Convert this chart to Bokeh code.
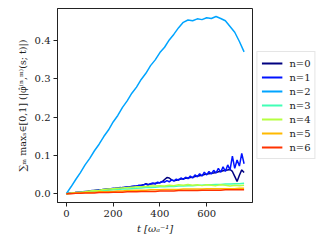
from bokeh.plotting import figure
from bokeh.layouts import row
from bokeh.models import Legend, LegendItem, FixedTicker, NumeralTickFormatter, Range1d
from bokeh.embed import file_html
from bokeh.resources import INLINE

t_noisy = [0, 10, 20, 30, 40, 50, 60, 70, 80, 90, 100, 110, 120, 130, 140, 150, 160, 170, 180, 190,
           200, 210, 220, 230, 240, 250, 260, 270, 280, 290, 300, 310, 320, 330, 340, 350, 360, 370, 380, 390,
           400, 410, 420, 430, 440, 450, 460, 470, 480, 490, 500, 510, 520, 530, 540, 550, 560, 570, 580, 590,
           600, 610, 620, 630, 640, 650, 660, 670, 680, 690, 700, 710, 720, 730, 740, 750, 760]

t_smooth = [0, 20, 40, 60, 80, 100, 120, 140, 160, 180, 200, 220, 240, 260, 280, 300, 320, 340, 360, 380,
            400, 420, 440, 460, 480, 500, 520, 540, 560, 580, 600, 620, 640, 660, 680, 700, 720, 740, 760]

n0 = [0.000, 0.001, 0.001, 0.002, 0.003, 0.003, 0.004, 0.005, 0.005, 0.006, 0.007, 0.007, 0.008, 0.009, 0.009,
      0.010, 0.011, 0.011, 0.012, 0.012, 0.013, 0.014, 0.014, 0.015, 0.016, 0.016, 0.017, 0.018, 0.019, 0.019,
      0.020, 0.021, 0.022, 0.023, 0.026, 0.024, 0.025, 0.026, 0.027, 0.028, 0.029, 0.031, 0.037, 0.042, 0.041,
      0.036, 0.034, 0.035, 0.037, 0.038, 0.039, 0.040, 0.041, 0.042, 0.043, 0.045, 0.046, 0.047, 0.048, 0.050,
      0.051, 0.052, 0.053, 0.054, 0.055, 0.057, 0.058, 0.060, 0.061, 0.062, 0.063, 0.058, 0.045, 0.032, 0.048,
      0.062, 0.055]

n1 = [0.000, 0.001, 0.002, 0.002, 0.003, 0.004, 0.004, 0.005, 0.006, 0.006, 0.007, 0.008, 0.008, 0.009, 0.010,
      0.010, 0.011, 0.012, 0.012, 0.013, 0.014, 0.013, 0.015, 0.016, 0.015, 0.017, 0.018, 0.017, 0.019, 0.020,
      0.019, 0.022, 0.021, 0.023, 0.025, 0.022, 0.026, 0.028, 0.025, 0.030, 0.028, 0.032, 0.030, 0.034, 0.031,
      0.036, 0.033, 0.038, 0.035, 0.041, 0.037, 0.043, 0.039, 0.046, 0.041, 0.049, 0.044, 0.052, 0.046, 0.056,
      0.049, 0.058, 0.051, 0.061, 0.054, 0.066, 0.056, 0.070, 0.058, 0.075, 0.062, 0.098, 0.066, 0.088, 0.072,
      0.105, 0.078]

n2 = [0.000, 0.018, 0.037, 0.055, 0.075, 0.092, 0.112, 0.129, 0.149, 0.166, 0.187, 0.204, 0.225, 0.242, 0.262,
      0.278, 0.298, 0.314, 0.334, 0.349, 0.368, 0.382, 0.401, 0.416, 0.433, 0.447, 0.453, 0.451, 0.456, 0.454,
      0.459, 0.457, 0.462, 0.457, 0.451, 0.436, 0.421, 0.397, 0.370]

n3 = [0.000, 0.001, 0.002, 0.003, 0.004, 0.005, 0.006, 0.007, 0.008, 0.009, 0.010, 0.011, 0.012, 0.012, 0.013,
      0.014, 0.015, 0.016, 0.016, 0.017, 0.018, 0.018, 0.019, 0.019, 0.020, 0.020, 0.021, 0.021, 0.022, 0.022,
      0.023, 0.023, 0.024, 0.024, 0.025, 0.025, 0.026, 0.026, 0.027]

n4 = [0.000, 0.001, 0.003, 0.004, 0.005, 0.007, 0.008, 0.009, 0.011, 0.012, 0.013, 0.014, 0.015, 0.016, 0.017,
      0.018, 0.018, 0.019, 0.020, 0.020, 0.021, 0.020, 0.022, 0.021, 0.023, 0.022, 0.024, 0.022, 0.023, 0.021,
      0.023, 0.022, 0.021, 0.023, 0.022, 0.020, 0.022, 0.021, 0.022]

n5 = [0.000, 0.001, 0.001, 0.002, 0.003, 0.003, 0.004, 0.005, 0.005, 0.006, 0.006, 0.007, 0.007, 0.008, 0.008,
      0.009, 0.009, 0.009, 0.010, 0.010, 0.010, 0.011, 0.011, 0.011, 0.011, 0.012, 0.012, 0.012, 0.012, 0.012,
      0.013, 0.013, 0.013, 0.013, 0.013, 0.013, 0.013, 0.014, 0.014]

n6 = [0.000, 0.000, 0.001, 0.001, 0.002, 0.002, 0.002, 0.003, 0.003, 0.003, 0.004, 0.004, 0.004, 0.005, 0.005,
      0.005, 0.006, 0.006, 0.006, 0.006, 0.007, 0.007, 0.007, 0.007, 0.008, 0.008, 0.008, 0.008, 0.008, 0.009,
      0.009, 0.009, 0.009, 0.009, 0.010, 0.010, 0.010, 0.010, 0.010]

labels = ["n=0", "n=1", "n=2", "n=3", "n=4", "n=5", "n=6"]
colors = ["#000080", "#0012ff", "#00a4ff", "#41ffb6", "#b6ff41", "#ffb900", "#ff3200"]
x_ticks = [0, 200, 400, 600]
y_ticks = [0.0, 0.1, 0.2, 0.3, 0.4]

FONT = "DejaVu Serif"

p = figure(width=253, height=238, output_backend="svg", toolbar_location=None,
           x_range=Range1d(-38, 796), y_range=Range1d(-0.023, 0.483),
           min_border_left=57, min_border_right=1, min_border_top=8, min_border_bottom=36)

series = [(t_noisy, n0), (t_noisy, n1), (t_smooth, n2), (t_smooth, n3),
          (t_smooth, n4), (t_smooth, n5), (t_smooth, n6)]
for (tx, ys), col in zip(series, colors):
    p.line(tx, ys, line_color=col, line_width=1.5)

p.xgrid.visible = False
p.ygrid.visible = False
p.outline_line_color = "#222222"
p.outline_line_width = 1
p.background_fill_color = "white"
p.border_fill_color = "white"

for ax in (p.xaxis[0], p.yaxis[0]):
    ax.axis_line_color = "#222222"
    ax.major_tick_line_color = "#222222"
    ax.major_tick_out = 4
    ax.major_tick_in = 0
    ax.minor_tick_line_color = None
    ax.major_label_text_font = FONT
    ax.major_label_text_font_size = "10px"
    ax.major_label_text_color = "#222222"
    ax.axis_label_text_font = FONT
    ax.axis_label_text_color = "#222222"

p.xaxis.ticker = FixedTicker(ticks=x_ticks)
p.yaxis.ticker = FixedTicker(ticks=y_ticks)
p.yaxis.formatter = NumeralTickFormatter(format="0.0")
p.xaxis.major_label_standoff = 3
p.yaxis.major_label_standoff = 3

p.xaxis.axis_label = "t [ωₐ⁻¹]"
p.xaxis.axis_label_text_font_size = "10px"
p.xaxis.axis_label_text_font_style = "italic"
p.xaxis.axis_label_standoff = 3

p.yaxis.axis_label = "∑ₘ maxₛ∈[0,1] (|φ̂⁽ⁿ,ᵐ⁾(s; t)|)"
p.yaxis.axis_label_text_font_size = "9.5px"
p.yaxis.axis_label_text_font_style = "normal"
p.yaxis.axis_label_standoff = 4

# legend lives in its own narrow figure beside the plot; its copies of the
# series sit outside that figure's visible ranges, so only the legend shows
lg = figure(width=66, height=238, output_backend="svg", toolbar_location=None,
            x_range=Range1d(-2000, -1000), y_range=Range1d(-2, -1),
            min_border_left=0, min_border_right=0, min_border_top=8, min_border_bottom=36)
lg.axis.visible = False
lg.xgrid.visible = False
lg.ygrid.visible = False
lg.outline_line_color = None
lg.background_fill_color = "white"
lg.border_fill_color = "white"

items = []
for (tx, ys), lab, col in zip(series, labels, colors):
    r = lg.line(tx, ys, line_color=col, line_width=2)
    items.append(LegendItem(label=lab, renderers=[r]))

legend = Legend(items=items, location="center", orientation="vertical",
                label_text_font=FONT, label_text_font_size="10px", label_text_color="#222222",
                glyph_width=21, glyph_height=14, label_height=14, label_width=20, spacing=0,
                label_standoff=7, padding=4, margin=0,
                border_line_color="#cccccc", border_line_width=1,
                background_fill_color="white", background_fill_alpha=1.0)
lg.add_layout(legend)

layout = row(p, lg)
open("out.html", "w").write(file_html(layout, INLINE))
